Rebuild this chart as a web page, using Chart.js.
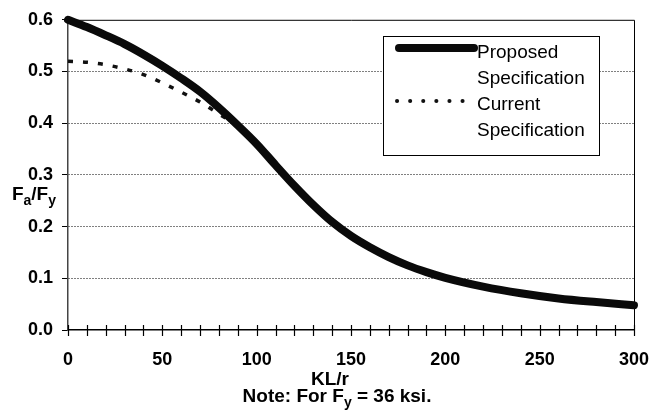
<!DOCTYPE html>
<html>
<head>
<meta charset="utf-8">
<script src="https://cdn.jsdelivr.net/npm/chart.js@4.4.1/dist/chart.umd.min.js"></script>
<style>
  body { margin: 0; background: #fff; }
  #chart { display: block; }
</style>
</head>
<body>
<canvas id="chart" width="652" height="419"></canvas>
<script>
// KL/r values
const klProposed = [0, 10, 20, 30, 40, 50, 60, 70, 80, 90, 100, 110, 120, 130, 140, 150, 160, 170, 180, 190, 200, 220, 240, 260, 280, 300];
const proposedSpec = [0.600, 0.586, 0.570, 0.553, 0.533, 0.511, 0.487, 0.461, 0.430, 0.396, 0.360, 0.319, 0.279, 0.242, 0.209, 0.182, 0.160, 0.141, 0.125, 0.112, 0.101, 0.084, 0.071, 0.061, 0.054, 0.048];

const klCurrent = [0, 10, 20, 30, 40, 50, 60, 70, 80, 90];
const currentSpec = [0.520, 0.518, 0.513, 0.505, 0.494, 0.478, 0.460, 0.441, 0.418, 0.395];

const yTicks = [0.0, 0.1, 0.2, 0.3, 0.4, 0.5, 0.6];
const xLabelTicks = [0, 50, 100, 150, 200, 250, 300];

const seriesNames = [['Proposed', 'Specification'], ['Current', 'Specification']];

const FONT = '"Liberation Sans", Arial, sans-serif';

function toPoints(xs, ys) {
    return xs.map((x, i) => ({ x: x, y: ys[i] }));
}

// draws text with subscript parts, e.g. F_a/F_y
function drawRich(ctx, parts, x, y, size, align) {
    const big = 'bold ' + size + 'px ' + FONT;
    const small = 'bold ' + Math.round(size * 0.72) + 'px ' + FONT;
    let total = 0;
    parts.forEach(p => {
        ctx.font = p.sub ? small : big;
        total += ctx.measureText(p.t).width;
    });
    let cx = x;
    if (align === 'center') cx = x - total / 2;
    if (align === 'right') cx = x - total;
    ctx.textAlign = 'left';
    ctx.textBaseline = 'middle';
    parts.forEach(p => {
        ctx.font = p.sub ? small : big;
        ctx.fillText(p.t, cx, p.sub ? y + size * 0.3 : y);
        cx += ctx.measureText(p.t).width;
    });
}

const decor = {
    id: 'decor',
    beforeDatasetsDraw(chart) {
        const { ctx, chartArea: a, scales: { x } } = chart;
        ctx.save();
        ctx.strokeStyle = '#000';
        ctx.lineWidth = 1;
        ctx.beginPath();
        ctx.moveTo(a.left, a.top + 0.5);
        ctx.lineTo(a.right + 0.5, a.top + 0.5);
        ctx.lineTo(a.right + 0.5, a.bottom);
        ctx.stroke();
        // minor ticks crossing the x axis
        ctx.lineWidth = 1.2;
        x.ticks.forEach(t => {
            const px = Math.round(x.getPixelForValue(t.value)) + 0.5;
            ctx.beginPath();
            ctx.moveTo(px, a.bottom - 5);
            ctx.lineTo(px, a.bottom + 6);
            ctx.stroke();
        });
        ctx.restore();
    },
    afterDraw(chart) {
        const { ctx } = chart;
        ctx.save();
        ctx.fillStyle = '#000';

        // axis titles
        drawRich(ctx, [{ t: 'F' }, { t: 'a', sub: true }, { t: '/F' }, { t: 'y', sub: true }], 56, 195, 19, 'right');
        drawRich(ctx, [{ t: 'KL/r' }], 330, 380, 19, 'center');
        drawRich(ctx, [{ t: 'Note: For F' }, { t: 'y', sub: true }, { t: ' = 36 ksi.' }], 337, 397, 19, 'center');

        // legend box
        const bx = 383, by = 36, bw = 216, bh = 119;
        ctx.fillStyle = '#fff';
        ctx.fillRect(bx, by, bw, bh);
        ctx.strokeStyle = '#000';
        ctx.lineWidth = 1;
        ctx.strokeRect(bx + 0.5, by + 0.5, bw, bh);

        const ds = chart.data.datasets;
        const rows = [{ y: 48, lines: [53, 79] }, { y: 101, lines: [105, 131] }];
        rows.forEach((r, i) => {
            ctx.save();
            ctx.strokeStyle = ds[i].borderColor;
            ctx.lineWidth = i === 1 ? 4 : ds[i].borderWidth;
            ctx.lineCap = 'round';
            ctx.setLineDash(i === 1 ? [0.1, 13] : []);
            ctx.beginPath();
            ctx.moveTo(i === 1 ? 397 : 399, r.y);
            ctx.lineTo(474, r.y);
            ctx.stroke();
            ctx.restore();
            ctx.fillStyle = '#000';
            ctx.font = '19px ' + FONT;
            ctx.textAlign = 'left';
            ctx.textBaseline = 'middle';
            seriesNames[i].forEach((s, j) => ctx.fillText(s, 477, r.lines[j]));
        });
        ctx.restore();
    }
};

const ctx = document.getElementById('chart').getContext('2d');
new Chart(ctx, {
    type: 'line',
    data: {
        datasets: [{
            label: seriesNames[0].join(' '),
            data: toPoints(klProposed, proposedSpec),
            borderColor: '#0a0a0a',
            borderWidth: 8,
            borderCapStyle: 'round',
            borderJoinStyle: 'round',
            pointRadius: 0,
            cubicInterpolationMode: 'monotone',
            clip: false
        }, {
            label: seriesNames[1].join(' '),
            data: toPoints(klCurrent, currentSpec),
            borderColor: '#111',
            borderWidth: 3.5,
            borderDash: [5, 10],
            pointRadius: 0,
            cubicInterpolationMode: 'monotone',
            clip: false
        }]
    },
    options: {
        responsive: false,
        animation: false,
        layout: { padding: { top: 18, right: 18, left: 0, bottom: 0 } },
        plugins: {
            legend: { display: false },
            tooltip: { enabled: false }
        },
        scales: {
            x: {
                type: 'linear',
                min: 0,
                max: 300,
                afterFit: s => {
                    s.height = 89;
                    s.paddingRight = 0;
                    s.paddingLeft = 0;
                },
                grid: { display: false },
                border: { display: true, color: '#000', width: 1.5 },
                ticks: {
                    stepSize: 10,
                    autoSkip: false,
                    maxRotation: 0,
                    padding: 11,
                    color: '#000',
                    font: { family: FONT, size: 18, weight: 'bold' },
                    callback: v => xLabelTicks.includes(v) ? String(v) : ''
                }
            },
            y: {
                min: 0,
                max: 0.6,
                afterFit: s => { s.width = 68; },
                grid: {
                    color: c => (c.tick && (c.tick.value === 0 || c.tick.value > 0.55)) ? 'rgba(0,0,0,0)' : '#000',
                    lineWidth: 1,
                    tickLength: 6,
                    tickColor: '#000'
                },
                border: { display: true, color: '#444', width: 1.5, dash: [1, 2] },
                ticks: {
                    stepSize: 0.1,
                    padding: 9,
                    color: '#000',
                    font: { family: FONT, size: 18, weight: 'bold' },
                    callback: v => yTicks.some(t => Math.abs(t - v) < 1e-6) ? v.toFixed(1) : ''
                }
            }
        }
    },
    plugins: [decor]
});
</script>
</body>
</html>
